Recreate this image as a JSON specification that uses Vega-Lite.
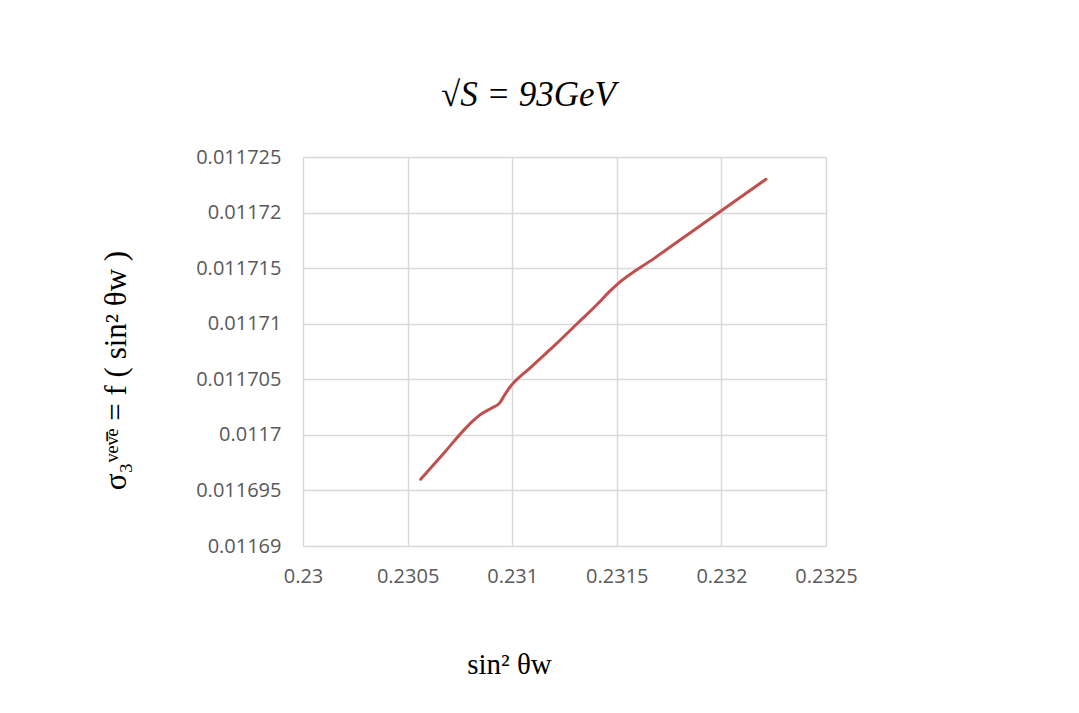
{
  "$schema": "https://vega.github.io/schema/vega-lite/v6.json",
  "width": 523,
  "height": 389,
  "autosize": "none",
  "padding": {"left": 303, "top": 157, "right": 253, "bottom": 167},
  "background": "white",
  "title": {
    "text": "√S  = 93GeV",
    "font": "Liberation Serif",
    "fontStyle": "italic",
    "fontWeight": "normal",
    "fontSize": 35,
    "color": "#000000",
    "anchor": "middle",
    "baseline": "alphabetic",
    "dx": -36,
    "offset": 6
  },
  "data": {
    "values": [
      {"s2w": 0.2305625, "sigma": 0.0116960},
      {"s2w": 0.2306708, "sigma": 0.0116983},
      {"s2w": 0.2307823, "sigma": 0.0117007},
      {"s2w": 0.2308150, "sigma": 0.0117013},
      {"s2w": 0.2308461, "sigma": 0.0117018},
      {"s2w": 0.2309000, "sigma": 0.0117024},
      {"s2w": 0.2309417, "sigma": 0.0117029},
      {"s2w": 0.2309608, "sigma": 0.0117035},
      {"s2w": 0.2309815, "sigma": 0.0117041},
      {"s2w": 0.2310900, "sigma": 0.0117061},
      {"s2w": 0.2312000, "sigma": 0.0117080},
      {"s2w": 0.2313100, "sigma": 0.0117100},
      {"s2w": 0.2314197, "sigma": 0.0117120},
      {"s2w": 0.2314596, "sigma": 0.0117128},
      {"s2w": 0.2314994, "sigma": 0.0117135},
      {"s2w": 0.2316800, "sigma": 0.0117159},
      {"s2w": 0.2318600, "sigma": 0.0117183},
      {"s2w": 0.2320400, "sigma": 0.0117207},
      {"s2w": 0.2322132, "sigma": 0.0117230}
    ]
  },
  "mark": {"type": "line", "color": "#c0504d", "strokeWidth": 3, "interpolate": "monotone", "strokeCap": "round"},
  "encoding": {
    "x": {
      "field": "s2w",
      "type": "quantitative",
      "scale": {"domain": [0.23, 0.2325], "nice": false, "zero": false},
      "axis": {
        "values": [0.23, 0.2305, 0.231, 0.2315, 0.232, 0.2325],
        "format": "~g",
        "title": "sin² θw",
        "titleFont": "Liberation Serif",
        "titleFontSize": 29,
        "titleFontWeight": "normal",
        "titleColor": "#000000",
        "titleX": 206,
        "titleY": 127,
        "titleAlign": "center",
        "titleBaseline": "alphabetic",
        "labelFont": "Open Sans",
        "labelFontSize": 20,
        "labelColor": "#595959",
        "labelPadding": 20,
        "labelFlush": false,
        "labelOverlap": false,
        "ticks": false,
        "domain": false,
        "grid": true,
        "gridColor": "#d9d9d9",
        "gridWidth": 1.5
      }
    },
    "y": {
      "field": "sigma",
      "type": "quantitative",
      "scale": {"domain": [0.01169, 0.011725], "nice": false, "zero": false},
      "axis": {
        "values": [0.01169, 0.011695, 0.0117, 0.011705, 0.01171, 0.011715, 0.01172, 0.011725],
        "format": "~g",
        "title": "σ₃ᵛᵉᵛ̄ᵉ = f ( sin² θw )",
        "titleFont": "Liberation Serif",
        "titleFontSize": 31,
        "titleFontWeight": "normal",
        "titleColor": "#000000",
        "titleX": -178,
        "titleY": 213,
        "titleAngle": -90,
        "titleAlign": "center",
        "titleBaseline": "alphabetic",
        "labelFont": "Open Sans",
        "labelFontSize": 20,
        "labelColor": "#595959",
        "labelPadding": 22,
        "labelFlush": false,
        "labelOverlap": false,
        "ticks": false,
        "domain": false,
        "grid": true,
        "gridColor": "#d9d9d9",
        "gridWidth": 1.5
      }
    }
  },
  "config": {"view": {"stroke": null}}
}
